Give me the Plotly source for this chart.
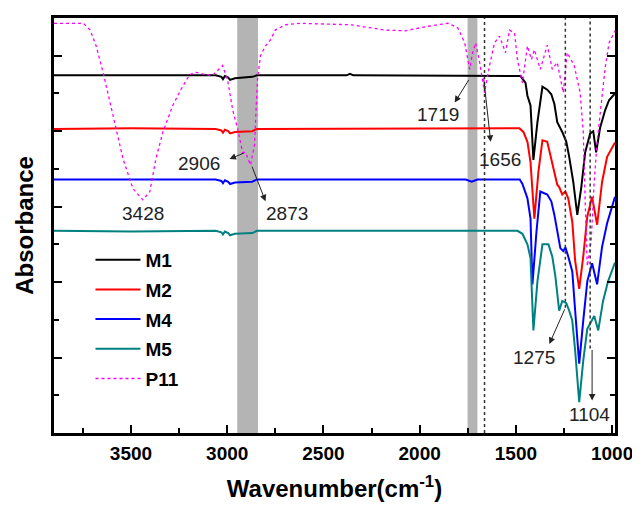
import plotly.graph_objects as go

# FTIR spectra (wavenumber, cm-1 / absorbance, offset units)
wn_m1 = [3900, 3500, 3060, 3030, 3022, 3012, 2995, 2985, 2960, 2870, 2845, 2380, 2362, 2345,
         1476, 1450, 1440, 1424, 1409, 1388, 1362, 1337, 1316, 1300, 1285, 1259, 1238, 1223,
         1202, 1181, 1160, 1140, 1114, 1098, 1083, 1062, 1036, 1016, 985]
abs_m1 = [4.74, 4.74, 4.74, 4.72, 4.69, 4.73, 4.71, 4.68, 4.70, 4.72, 4.74, 4.74, 4.76, 4.74,
          4.73, 4.64, 4.47, 4.34, 3.62, 4.12, 4.59, 4.55, 4.49, 4.36, 4.12, 3.99, 3.86, 3.66,
          3.33, 2.89, 3.26, 3.72, 3.97, 4.00, 3.72, 4.05, 4.28, 4.41, 4.50]

wn_m2 = [3900, 3500, 3060, 3030, 3022, 3012, 2995, 2985, 2960, 2870, 2845, 1482, 1461, 1440,
         1424, 1404, 1383, 1362, 1337, 1311, 1285, 1275, 1259, 1243, 1228, 1207, 1192, 1171,
         1150, 1129, 1104, 1078, 1052, 1026, 985]
abs_m2 = [4.03, 4.04, 4.03, 4.01, 3.98, 4.02, 4.00, 3.97, 3.99, 4.00, 4.03, 4.04, 3.99, 3.86,
          3.59, 2.84, 3.46, 3.88, 3.86, 3.59, 3.29, 3.26, 3.16, 3.20, 3.11, 2.80, 2.28, 1.91,
          2.34, 2.87, 3.13, 2.76, 3.33, 3.66, 3.85]

wn_m4 = [3900, 3500, 3060, 3030, 3022, 3012, 2995, 2985, 2960, 2870, 2845, 1760, 1730, 1700,
         1480, 1466, 1440, 1424, 1414, 1393, 1373, 1337, 1316, 1300, 1285, 1269, 1254, 1243,
         1228, 1207, 1192, 1171, 1150, 1129, 1104, 1078, 1052, 1026, 985]
abs_m4 = [3.36, 3.36, 3.36, 3.34, 3.31, 3.35, 3.33, 3.30, 3.32, 3.33, 3.36, 3.36, 3.33, 3.36,
          3.36, 3.30, 3.11, 2.84, 1.97, 2.67, 3.20, 3.16, 3.07, 2.89, 2.67, 2.45, 2.41, 2.46,
          2.34, 2.14, 1.62, 0.92, 1.49, 2.01, 2.25, 1.97, 2.47, 2.78, 3.13]

wn_m5 = [3900, 3500, 3060, 3030, 3022, 3012, 2995, 2985, 2960, 2870, 2845, 1492, 1466, 1440,
         1424, 1409, 1388, 1362, 1331, 1311, 1295, 1285, 1275, 1259, 1238, 1223, 1207, 1192,
         1171, 1150, 1129, 1093, 1072, 1047, 1021, 985]
abs_m5 = [2.68, 2.67, 2.68, 2.66, 2.63, 2.67, 2.65, 2.62, 2.64, 2.65, 2.68, 2.68, 2.64, 2.50,
          2.32, 1.36, 2.01, 2.50, 2.50, 2.34, 2.08, 1.84, 1.62, 1.75, 1.72, 1.62, 1.49, 1.09,
          0.41, 0.96, 1.38, 1.55, 1.36, 1.75, 2.01, 2.26]

wn_p11 = [3900, 3748, 3712, 3681, 3645, 3609, 3578, 3541, 3490, 3438, 3402, 3371, 3334, 3283,
          3241, 3195, 3164, 3112, 3076, 3055, 3039, 3024, 2998, 2972, 2946, 2920, 2905, 2879,
          2858, 2843, 2827, 2801, 2775, 2750, 2698, 2625, 2356, 2180, 2077, 1958, 1854, 1802,
          1766, 1740, 1725, 1709, 1688, 1663, 1637, 1611, 1585, 1569, 1554, 1533, 1507, 1492,
          1466, 1440, 1419, 1404, 1373, 1337, 1311, 1285, 1254, 1233, 1197, 1166, 1150, 1140,
          1129, 1109, 1093, 1078, 1057, 1036, 1016, 985]
abs_p11 = [5.43, 5.43, 5.34, 5.13, 4.78, 4.38, 4.03, 3.63, 3.24, 3.09, 3.20, 3.63, 3.99, 4.34,
           4.55, 4.75, 4.78, 4.75, 4.74, 4.79, 4.84, 4.87, 4.68, 4.29, 4.03, 3.72, 3.72, 3.55,
           3.82, 4.68, 5.00, 5.13, 5.21, 5.34, 5.41, 5.43, 5.41, 5.34, 5.33, 5.39, 5.43, 5.37,
           5.17, 4.82, 5.04, 5.17, 4.91, 4.51, 4.87, 5.17, 5.26, 5.13, 5.04, 5.34, 5.30, 4.95,
           4.64, 5.13, 4.95, 5.08, 4.82, 5.14, 4.82, 4.91, 4.51, 5.04, 4.87, 4.51, 3.99, 3.07,
           2.21, 2.54, 3.33, 3.86, 4.38, 4.84, 5.17, 5.33]

# shaded bands and dotted guide lines
band_lo = [2840, 1700]
band_hi = [2948, 1751]
guide_x = [1663, 1243, 1114]
guide_bottom = [0.0, 1.66, 1.12]

# peak labels and arrows (tail -> head)
label_text = ["3428", "2906", "2873", "1719", "1656", "1275", "1104"]
label_x = [3438, 3148, 2687, 1906, 1580, 1404, 1119]
label_y = [2.91, 3.57, 2.91, 4.22, 3.63, 1.00, 0.24]
arrow_tail_x = [2905, 2874, 1740, 1668, 1243, 1104]
arrow_tail_y = [3.72, 3.55, 4.70, 4.72, 1.66, 1.12]
arrow_head_x = [2988, 2801, 1818, 1631, 1326, 1104]
arrow_head_y = [3.63, 3.07, 4.38, 3.86, 1.18, 0.43]

font = "Arial, Liberation Sans, sans-serif"

fig = go.Figure()
series = [
    ("M1", wn_m1, abs_m1, "#000000", "solid", 2),
    ("M2", wn_m2, abs_m2, "#ff0000", "solid", 2),
    ("M4", wn_m4, abs_m4, "#0000ff", "solid", 2),
    ("M5", wn_m5, abs_m5, "#008080", "solid", 2),
    ("P11", wn_p11, abs_p11, "#ff00ff", "dot", 1.3),
]
for name, x, y, col, dash, w in series:
    fig.add_trace(go.Scatter(x=x, y=y, mode="lines", name=name, legendgroup=name,
                             line=dict(color=col, width=w, dash=dash)))

for lo, hi in zip(band_lo, band_hi):
    fig.add_vrect(x0=lo, x1=hi, fillcolor="#b4b4b4", opacity=1, line_width=0, layer="below")

for gx, gb in zip(guide_x, guide_bottom):
    fig.add_shape(type="line", x0=gx, x1=gx, y0=gb, y1=5.5, xref="x", yref="y",
                  line=dict(color="#333333", width=1.5, dash="dot"))

for t, x, y in zip(label_text, label_x, label_y):
    fig.add_annotation(x=x, y=y, text=t, showarrow=False,
                       font=dict(family=font, size=19, color="#222222"))

for tx, ty, hx, hy in zip(arrow_tail_x, arrow_tail_y, arrow_head_x, arrow_head_y):
    fig.add_annotation(x=hx, y=hy, ax=tx, ay=ty, xref="x", yref="y", axref="x", ayref="y",
                       text="", showarrow=True, arrowhead=2, arrowsize=1.3, arrowwidth=1,
                       arrowcolor="#222222", standoff=0)

# page body has an 8px margin, so the figure is sized/offset to land on the reference frame
fig.update_layout(
    width=632, height=498,
    margin=dict(l=46, r=22, t=7, b=73),
    plot_bgcolor="white", paper_bgcolor="white",
    font=dict(family=font, color="black"),
    legend=dict(x=0.065, y=0.463, xanchor="left", yanchor="top", bgcolor="rgba(0,0,0,0)",
                font=dict(family=font, size=19, weight="bold"), tracegroupgap=2,
                itemwidth=45),
    xaxis=dict(
        range=[3900, 985], showgrid=False, zeroline=False,
        showline=True, linecolor="black", linewidth=3, mirror=True,
        ticks="inside", ticklen=8, tickwidth=2, tickcolor="black",
        tickvals=[3500, 3000, 2500, 2000, 1500, 1000], ticklabelstandoff=1,
        ticklabeloverflow="allow",
        minor=dict(ticks="inside", ticklen=5, tickwidth=2, dtick=250, tickcolor="black"),
        tickfont=dict(family=font, size=19, weight="bold"),
        title=dict(text="Wavenumber(cm<sup>-1</sup>)",
                   font=dict(family=font, size=24, weight="bold"), standoff=18),
    ),
    yaxis=dict(
        range=[0, 5.5], showgrid=False, zeroline=False,
        showline=True, linecolor="black", linewidth=3, mirror="ticks",
        ticks="inside", ticklen=8, tickwidth=2, tickcolor="black", dtick=1,
        minor=dict(ticks="inside", ticklen=5, tickwidth=2, dtick=0.5, tickcolor="black"),
        showticklabels=False,
        title=dict(text="Absorbance", font=dict(family=font, size=24, weight="bold"), standoff=11),
    ),
)

fig.write_html("out.html")
